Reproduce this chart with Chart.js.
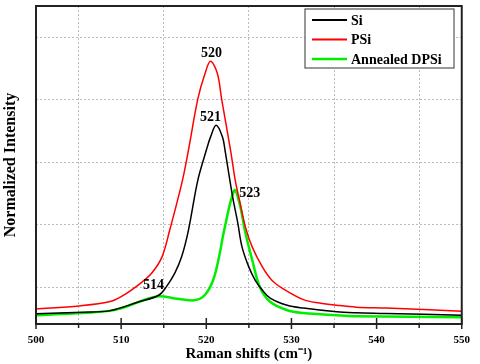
<!DOCTYPE html>
<html>
<head>
<meta charset="utf-8">
<script src="https://cdn.jsdelivr.net/npm/chart.js@4/dist/chart.umd.min.js"></script>
<style>
  html, body { margin: 0; padding: 0; background: #fff; }
</style>
</head>
<body>
<canvas id="chart" width="480" height="364"></canvas>
<script>
// Raman spectra
const seriesNames = ['Si', 'PSi', 'Annealed DPSi']
const seriesColors = ['#000000', '#ff0000', '#00ee00']

const siShift = [500, 505.5, 508.6, 512.1, 514.4, 515.3, 516.3, 517.1, 517.9, 519.0, 520.0, 520.5, 521.15, 521.9, 522.2, 523.1, 523.7, 524.2, 525.0, 525.75, 526.6, 527.5, 529.5, 531.4, 535.3, 537.6, 541.1, 550]
const siIntensity = [-0.085, -0.080, -0.076, -0.047, -0.026, 0.001, 0.045, 0.097, 0.182, 0.342, 0.438, 0.481, 0.518, 0.481, 0.438, 0.288, 0.205, 0.128, 0.064, 0.022, -0.010, -0.035, -0.058, -0.067, -0.079, -0.082, -0.084, -0.090]

const psiShift = [500, 505.1, 508.6, 510.1, 512.3, 513.6, 514.8, 515.7, 517.2, 517.9, 519.0, 519.85, 520.5, 521.3, 521.8, 522.85, 523.4, 523.9, 524.6, 525.4, 526.6, 527.7, 528.9, 531.4, 533.3, 535.3, 537.6, 541.1, 550]
const psiIntensity = [-0.070, -0.060, -0.047, -0.029, 0.013, 0.045, 0.097, 0.182, 0.342, 0.438, 0.602, 0.684, 0.723, 0.684, 0.602, 0.438, 0.342, 0.278, 0.192, 0.128, 0.064, 0.022, -0.003, -0.040, -0.051, -0.058, -0.064, -0.067, -0.077]

const dpsiShift = [500, 505.5, 508.6, 510.1, 512.1, 514.4, 516.3, 518.6, 519.8, 520.8, 521.5, 522.1, 523.3, 523.9, 524.6, 525.4, 526.3, 527.5, 529.5, 531.4, 535.3, 537.6, 550]
const dpsiIntensity = [-0.090, -0.083, -0.076, -0.067, -0.047, -0.029, -0.036, -0.042, -0.026, 0.022, 0.097, 0.182, 0.310, 0.269, 0.173, 0.086, 0.000, -0.047, -0.074, -0.083, -0.090, -0.093, -0.096]

const xTickValues = [500, 505, 510, 515, 520, 525, 530, 535, 540, 545, 550]
const yGridValues = [0, 0.2, 0.4, 0.6, 0.8]

const peakText = ['520', '521', '523', '514']
const peakShift = [520.6, 520.5, 525.1, 513.8]
const peakLevel = [0.749, 0.544, 0.301, 0.006]

const serif = 'Liberation Serif, Times New Roman, serif'

const pairs = (xs, ys) => xs.map((x, i) => ({ x, y: ys[i] }))

const extras = {
  id: 'extras',
  afterDatasetsDraw(chart) {
    const { ctx, chartArea: a, scales: { x, y } } = chart
    ctx.save()
    // frame
    ctx.strokeStyle = '#222'
    ctx.lineWidth = 2
    ctx.strokeRect(a.left, a.top, a.right - a.left, a.bottom - a.top)
    // x tick marks
    ctx.lineWidth = 1.5
    x.ticks.forEach(t => {
      const px = x.getPixelForValue(t.value)
      ctx.beginPath()
      if (t.value % 10 === 0) { ctx.moveTo(px, a.bottom - 6); ctx.lineTo(px, a.bottom + 5) }
      else { ctx.moveTo(px, a.bottom); ctx.lineTo(px, a.bottom + 4) }
      ctx.stroke()
    })
    // peak labels
    ctx.fillStyle = '#000'
    ctx.font = 'bold 14px ' + serif
    ctx.textAlign = 'center'
    ctx.textBaseline = 'middle'
    peakText.forEach((s, i) => {
      ctx.fillText(s, x.getPixelForValue(peakShift[i]), y.getPixelForValue(peakLevel[i]))
    })
    // legend box
    const bx = 305, by = 9, bw = 149, bh = 59
    ctx.fillStyle = '#fff'
    ctx.fillRect(bx, by, bw, bh)
    ctx.strokeStyle = '#555'
    ctx.lineWidth = 1.2
    ctx.strokeRect(bx, by, bw, bh)
    ctx.textAlign = 'left'
    chart.data.datasets.forEach((ds, i) => {
      const ly = by + 11 + i * 19.5
      ctx.strokeStyle = ds.borderColor
      ctx.lineWidth = i === 2 ? 2.5 : 1.8
      ctx.beginPath(); ctx.moveTo(bx + 7, ly); ctx.lineTo(bx + 42, ly); ctx.stroke()
      ctx.fillStyle = '#000'
      ctx.fillText(ds.label, bx + 46, ly + 1)
    })
    ctx.restore()
  }
}

new Chart(document.getElementById('chart').getContext('2d'), {
  type: 'line',
  data: {
    datasets: [
      { label: seriesNames[0], data: pairs(siShift, siIntensity), borderColor: seriesColors[0], borderWidth: 1.5 },
      { label: seriesNames[1], data: pairs(psiShift, psiIntensity), borderColor: seriesColors[1], borderWidth: 1.5 },
      { label: seriesNames[2], data: pairs(dpsiShift, dpsiIntensity), borderColor: seriesColors[2], borderWidth: 2.5 }
    ].map(d => ({ ...d, pointRadius: 0, fill: false, tension: 0.35 }))
  },
  options: {
    responsive: false,
    animation: false,
    layout: { padding: { top: 6, right: 13, left: 0, bottom: 0 } },
    plugins: { legend: { display: false }, tooltip: { enabled: false } },
    scales: {
      x: {
        type: 'linear', min: 500, max: 550,
        afterBuildTicks: s => { s.ticks = xTickValues.map(v => ({ value: v })) },
        afterFit: s => { s.height = 40 },
        ticks: {
          autoSkip: false, maxRotation: 0, padding: 10, color: '#000',
          font: { family: serif, size: 11, weight: 'bold' },
          callback: v => v % 10 === 0 ? String(v) : ''
        },
        grid: {
          drawTicks: false, lineWidth: 1,
          color: c => c.tick && c.tick.value % 10 !== 0 ? '#bbbbbb' : 'rgba(0,0,0,0)'
        },
        border: { display: false, dash: [2, 2] },
        title: {
          display: true, text: 'Raman shifts (cm⁻¹)', color: '#000',
          font: { family: serif, size: 15, weight: 'bold' },
          padding: { top: 0, bottom: 1 }
        }
      },
      y: {
        min: -0.118, max: 0.9,
        afterBuildTicks: s => { s.ticks = yGridValues.map(v => ({ value: v })) },
        afterFit: s => { s.width = 36 },
        ticks: { display: false },
        grid: { drawTicks: false, color: '#bbbbbb', lineWidth: 1 },
        border: { display: false, dash: [2, 2] },
        title: {
          display: true, text: 'Normalized Intensity', color: '#000',
          font: { family: serif, size: 16, weight: 'bold' },
          padding: { top: 1, bottom: 0 }
        }
      }
    }
  },
  plugins: [extras]
})
</script>
</body>
</html>
